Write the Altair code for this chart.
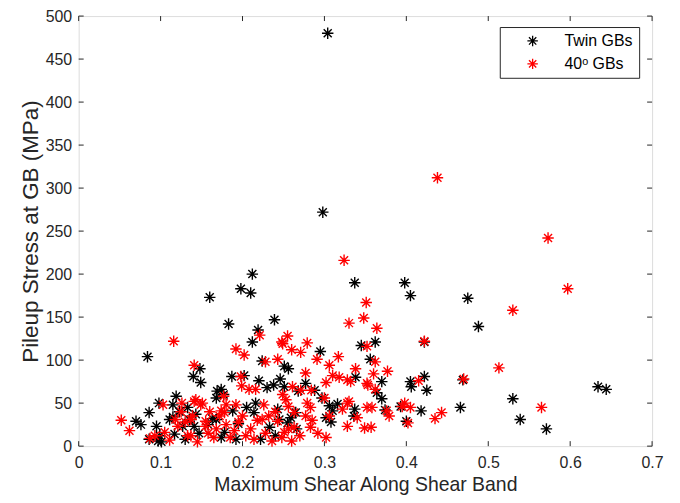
import altair as alt
import pandas as pd

# ---- data ----
twin_x = [0.304, 0.298, 0.212, 0.198, 0.210, 0.160, 0.183, 0.239, 0.219, 0.212,
          0.337, 0.398, 0.405, 0.475, 0.488, 0.362, 0.422, 0.345, 0.295, 0.356,
          0.634, 0.644, 0.530, 0.539, 0.571, 0.466, 0.418, 0.370, 0.370, 0.374,
          0.405, 0.422, 0.406, 0.425, 0.469, 0.393, 0.400, 0.364, 0.338, 0.337,
          0.336, 0.316, 0.306, 0.310, 0.308, 0.302, 0.297, 0.288, 0.277, 0.268,
          0.265, 0.266, 0.259, 0.245, 0.255, 0.243, 0.251, 0.256, 0.224, 0.187,
          0.202, 0.220, 0.238, 0.246, 0.251, 0.230, 0.169, 0.177, 0.168, 0.174,
          0.148, 0.140, 0.149, 0.133, 0.216, 0.135, 0.168, 0.188, 0.214, 0.233,
          0.147, 0.178, 0.222, 0.192, 0.174, 0.141, 0.163, 0.143, 0.084, 0.086,
          0.070, 0.076, 0.095, 0.086, 0.099, 0.098, 0.119, 0.115, 0.111, 0.117,
          0.101, 0.115, 0.127, 0.097, 0.158, 0.195, 0.205, 0.240, 0.123, 0.130]
twin_y = [480, 272, 200, 183, 178, 173, 142, 147, 135, 121,
          190, 190, 175, 172, 139, 121, 121, 117, 110, 101,
          69, 66, 55, 31, 20, 45, 41, 75, 55, 42,
          75, 81, 69, 65, 77, 46, 29, 62, 80, 43,
          35, 49, 47, 41, 28, 33, 56, 65, 73, 64,
          39, 20, 33, 31, 27, 43, 93, 90, 99, 81,
          82, 76, 71, 78, 69, 68, 64, 60, 56, 66,
          90, 81, 74, 45, 50, 31, 31, 41, 39, 22,
          15, 16, 8, 8, 10, 23, 32, 37, 104, 39,
          29, 25, 23, 8, 12, 50, 58, 48, 31, 14,
          5, 34, 23, 6, 25, 26, 45, 12, 40, 8]

gb40_x = [0.438, 0.573, 0.597, 0.530, 0.513, 0.565, 0.443, 0.435, 0.402, 0.395,
          0.405, 0.415, 0.470, 0.422, 0.379, 0.376, 0.357, 0.358, 0.377, 0.360,
          0.362, 0.364, 0.351, 0.348, 0.330, 0.324, 0.279, 0.255, 0.248, 0.221,
          0.116, 0.352, 0.317, 0.291, 0.271, 0.260, 0.249, 0.243, 0.228, 0.202,
          0.192, 0.141, 0.338, 0.306, 0.310, 0.318, 0.328, 0.302, 0.332, 0.352,
          0.353, 0.362, 0.277, 0.261, 0.271, 0.284, 0.300, 0.330, 0.398, 0.256,
          0.283, 0.322, 0.352, 0.277, 0.306, 0.340, 0.328, 0.349, 0.256, 0.283,
          0.263, 0.263, 0.302, 0.249, 0.279, 0.328, 0.253, 0.226, 0.192, 0.149,
          0.141, 0.199, 0.208, 0.216, 0.198, 0.177, 0.143, 0.151, 0.126, 0.103,
          0.180, 0.174, 0.178, 0.139, 0.118, 0.121, 0.133, 0.111, 0.087, 0.168,
          0.155, 0.137, 0.155, 0.200, 0.224, 0.243, 0.251, 0.137, 0.190, 0.204,
          0.214, 0.236, 0.052, 0.062, 0.105, 0.093, 0.180, 0.185, 0.195, 0.210,
          0.218, 0.228, 0.240, 0.232, 0.160, 0.165, 0.125, 0.130, 0.145, 0.158,
          0.172, 0.248, 0.260, 0.270, 0.285, 0.292]
gb40_y = [312, 242, 183, 158, 91, 45, 39, 32, 27, 46,
          45, 76, 78, 122, 35, 41, 22, 45, 87, 84,
          98, 137, 167, 149, 143, 216, 120, 128, 121, 129,
          122, 116, 104, 101, 109, 112, 119, 101, 98, 106,
          113, 94, 90, 94, 82, 80, 77, 74, 75, 73,
          71, 66, 85, 69, 65, 65, 56, 52, 50, 46,
          45, 43, 45, 35, 35, 33, 23, 21, 20, 22,
          22, 39, 10, 60, 50, 50, 54, 48, 48, 48,
          52, 70, 66, 66, 81, 58, 54, 50, 50, 48,
          48, 41, 39, 35, 31, 23, 12, 7, 9, 20,
          23, 31, 29, 35, 31, 29, 16, 12, 18, 12,
          8, 6, 30, 18, 16, 12, 25, 10, 28, 20,
          30, 15, 40, 35, 40, 10, 40, 28, 5, 15,
          35, 10, 6, 12, 30, 15]

series_names = ["Twin GBs", "40\u1d52 GBs"]
series_colors = ["#000000", "#ff0000"]
x_ticks = [0, 0.1, 0.2, 0.3, 0.4, 0.5, 0.6, 0.7]
y_ticks = [0, 50, 100, 150, 200, 250, 300, 350, 400, 450, 500]

rows = []
for i, (a, b) in enumerate(zip(twin_x, twin_y)):
    rows.append({"x": a, "y": b, "series": series_names[0], "ord": i})
n = len(rows)
for i, (a, b) in enumerate(zip(gb40_x, gb40_y)):
    rows.append({"x": a, "y": b, "series": series_names[1], "ord": n + i})
df = pd.DataFrame(rows)
xt = pd.DataFrame({"t": x_ticks})
yt = pd.DataFrame({"t": y_ticks})

W, H = 576, 432
FONT = "Liberation Sans"
TXT = "#262626"
star = "M-1,0L1,0M0,-1L0,1M-0.7,-0.7L0.7,0.7M-0.7,0.7L0.7,-0.7"

xscale = alt.Scale(domain=[0, 0.7], nice=False, zero=False)
yscale = alt.Scale(domain=[0, 500], nice=False, zero=False)
xaxis = alt.Axis(values=x_ticks, format="~g", title="Maximum Shear Along Shear Band",
                 tickSize=0, domain=False, grid=False, labelPadding=8,
                 labelFontSize=16, titleFontSize=19.5, titlePadding=6,
                 labelFont=FONT, titleFont=FONT, labelColor=TXT, titleColor=TXT,
                 titleFontWeight="normal", labelFlush=False)
yaxis = alt.Axis(values=y_ticks, title="Pileup Stress at GB (MPa)",
                 tickSize=0, domain=False, grid=False, labelPadding=7,
                 labelFontSize=16, titleFontSize=22.5, titlePadding=3,
                 labelFont=FONT, titleFont=FONT, labelColor=TXT, titleColor=TXT,
                 titleFontWeight="normal", labelFlush=False)

points = alt.Chart(df).mark_point(
    shape=star, filled=False, size=132, strokeWidth=1.4, opacity=1
).encode(
    x=alt.X("x:Q", scale=xscale, axis=xaxis),
    y=alt.Y("y:Q", scale=yscale, axis=yaxis),
    color=alt.Color("series:N", scale=alt.Scale(domain=series_names, range=series_colors),
                    legend=alt.Legend(title=None, orient="none", legendX=423, legendY=11,
                                      strokeColor="#262626", fillColor="white", padding=6,
                                      symbolType=star, symbolSize=110, symbolStrokeWidth=1.3,
                                      labelFontSize=16, labelFont=FONT, labelColor="#000000",
                                      symbolOffset=19, labelOffset=24, rowPadding=7)),
    order=alt.Order("ord:Q"),
)

tick_color = "#262626"
bottom_ticks = alt.Chart(xt).mark_rule(color=tick_color, strokeWidth=1).encode(
    x=alt.X("t:Q", scale=xscale, axis=xaxis), y=alt.value(H), y2=alt.value(H - 5))
top_ticks = alt.Chart(xt).mark_rule(color=tick_color, strokeWidth=1).encode(
    x=alt.X("t:Q", scale=xscale, axis=xaxis), y=alt.value(0), y2=alt.value(5))
left_ticks = alt.Chart(yt).mark_rule(color=tick_color, strokeWidth=1).encode(
    y=alt.Y("t:Q", scale=yscale, axis=yaxis), x=alt.value(0), x2=alt.value(5))
right_ticks = alt.Chart(yt).mark_rule(color=tick_color, strokeWidth=1).encode(
    y=alt.Y("t:Q", scale=yscale, axis=yaxis), x=alt.value(W), x2=alt.value(W - 5))

chart = alt.layer(bottom_ticks, top_ticks, left_ticks, right_ticks, points).properties(
    width=W, height=H,
    autosize=alt.AutoSizeParams(type="none"),
    padding={"left": 71, "top": 7, "right": 20, "bottom": 50},
).configure_view(stroke="#262626", strokeWidth=1).configure(background="white")

chart.save("out.html", embed_options={"renderer": "svg", "actions": False})
